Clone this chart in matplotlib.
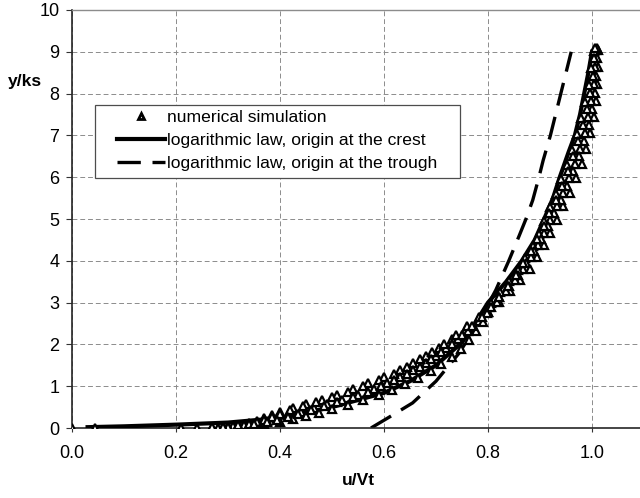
import matplotlib
matplotlib.use("Agg")
import matplotlib.pyplot as plt
from matplotlib.patches import Rectangle
from matplotlib.legend_handler import HandlerLine2D

plt.rcParams['font.family'] = ['Liberation Sans', 'DejaVu Sans']

# numerical simulation, five velocity profiles (u/Vt, y/ks)
grid1_y = [0.0, 0.02, 0.05, 0.08, 0.12, 0.17, 0.23, 0.30, 0.38, 0.47, 0.57, 0.68, 0.80, 0.93,
           1.07, 1.22, 1.38, 1.55, 1.73, 1.92, 2.12, 2.33, 2.55, 2.78, 3.02, 3.27, 3.53, 3.80,
           4.08, 4.37, 4.67, 4.98, 5.30, 5.63, 5.97, 6.32, 6.68, 7.05, 7.43, 7.82, 8.22, 8.63, 9.05]
grid2_y = [0.01, 0.035, 0.065, 0.10, 0.145, 0.20, 0.265, 0.34, 0.425, 0.52, 0.625, 0.74, 0.865, 1.0,
           1.145, 1.30, 1.465, 1.64, 1.825, 2.02, 2.225, 2.44, 2.665, 2.90, 3.145, 3.40, 3.665, 3.94,
           4.225, 4.52, 4.825, 5.14, 5.465, 5.80, 6.145, 6.50, 6.865, 7.24, 7.625, 8.02, 8.425, 8.84, 9.10]
grid3_y = [0.0, 0.0, 0.03, 0.06, 0.10, 0.15, 0.21, 0.28, 0.36, 0.45, 0.55, 0.66, 0.78, 0.91,
           1.05, 1.20, 1.36, 1.53, 1.71, 1.90, 2.10, 2.31, 2.53, 2.76, 3.00, 3.25, 3.51, 3.78,
           4.06, 4.35, 4.65, 4.96, 5.28, 5.61, 5.95, 6.30, 6.66, 7.03, 7.41, 7.80, 8.20, 8.61, 9.02]

sim_a_u = [0.27, 0.29, 0.31, 0.325, 0.34, 0.355, 0.37, 0.385, 0.40, 0.425, 0.45, 0.48, 0.51, 0.54,
           0.57, 0.60, 0.63, 0.655, 0.68, 0.705, 0.73, 0.755, 0.78, 0.80, 0.822, 0.843, 0.862, 0.88,
           0.895, 0.908, 0.92, 0.932, 0.945, 0.958, 0.97, 0.98, 0.988, 0.997, 1.003, 1.007, 1.009, 1.011, 1.011]
sim_b_u = [0.21, 0.27, 0.30, 0.33, 0.355, 0.375, 0.395, 0.415, 0.44, 0.465, 0.49, 0.52, 0.55, 0.58,
           0.605, 0.63, 0.655, 0.68, 0.70, 0.72, 0.742, 0.762, 0.782, 0.80, 0.817, 0.835, 0.852, 0.868,
           0.883, 0.896, 0.908, 0.92, 0.932, 0.944, 0.956, 0.967, 0.977, 0.986, 0.993, 0.999, 1.003, 1.006, 1.008]
sim_c_u = [0.0, 0.045, 0.30, 0.34, 0.37, 0.40, 0.425, 0.45, 0.475, 0.50, 0.53, 0.56, 0.59, 0.615,
           0.64, 0.665, 0.69, 0.71, 0.73, 0.748, 0.763, 0.777, 0.79, 0.798, 0.805, 0.823, 0.84, 0.857,
           0.872, 0.886, 0.898, 0.908, 0.919, 0.93, 0.941, 0.951, 0.961, 0.971, 0.979, 0.987, 0.994, 0.999, 1.003]
sim_d_u = [0.28, 0.30, 0.32, 0.34, 0.355, 0.37, 0.385, 0.40, 0.42, 0.445, 0.47, 0.50, 0.53, 0.56,
           0.59, 0.62, 0.645, 0.67, 0.693, 0.716, 0.738, 0.76, 0.782, 0.802, 0.822, 0.84, 0.857, 0.873,
           0.888, 0.902, 0.915, 0.927, 0.94, 0.952, 0.964, 0.975, 0.985, 0.994, 1.0, 1.005, 1.008, 1.01, 1.01]
sim_e_u = [0.24, 0.29, 0.32, 0.35, 0.375, 0.395, 0.415, 0.435, 0.46, 0.485, 0.51, 0.54, 0.57, 0.595,
           0.62, 0.645, 0.67, 0.69, 0.71, 0.73, 0.75, 0.77, 0.788, 0.805, 0.822, 0.838, 0.853, 0.868,
           0.882, 0.895, 0.907, 0.918, 0.93, 0.942, 0.953, 0.964, 0.974, 0.983, 0.991, 0.997, 1.001, 1.004, 1.006]

# log law with the origin at the crest
crest_u = [0.03, 0.10, 0.20, 0.30, 0.40, 0.50, 0.60, 0.65, 0.70, 0.75, 0.77, 0.80, 0.835, 0.865,
           0.89, 0.908, 0.925, 0.938, 0.955, 0.967, 0.977, 0.985, 0.993, 1.0]
crest_y = [0.02, 0.04, 0.08, 0.13, 0.24, 0.50, 0.84, 1.12, 1.50, 2.05, 2.40, 3.00, 3.50, 4.00,
           4.50, 5.00, 5.50, 6.00, 6.60, 7.00, 7.50, 8.00, 8.50, 9.00]

# log law with the origin at the trough
trough_u = [0.575, 0.61, 0.655, 0.70, 0.745, 0.785, 0.815, 0.84, 0.86, 0.873, 0.886, 0.898, 0.906,
            0.92, 0.93, 0.94, 0.95, 0.96]
trough_y = [0.0, 0.26, 0.60, 1.12, 1.80, 2.60, 3.30, 4.00, 4.60, 5.00, 5.45, 6.00, 6.40,
            7.00, 7.50, 8.00, 8.50, 9.00]

fig = plt.figure(figsize=(6.4, 4.98), dpi=100)
ax = fig.add_axes([72 / 640, 70 / 498, 572 / 640, 418 / 498])

ln_trough, = ax.plot(trough_u, trough_y, color='black', lw=2.4, linestyle=(0, (7, 3.5)),
                     label='logarithmic law, origin at the trough', zorder=2)
ln_crest, = ax.plot(crest_u, crest_y, color='black', lw=3.0,
                    label='logarithmic law, origin at the crest', zorder=3)
mk = dict(linestyle='none', marker='^', ms=5.8, mfc='white', mec='black', mew=1.6, zorder=4)
ln_sim, = ax.plot(sim_a_u, grid1_y, label='numerical simulation', **mk)
ax.plot(sim_b_u, grid1_y, **mk)
ax.plot(sim_c_u, grid3_y, **mk)
ax.plot(sim_d_u, grid2_y, **mk)
ax.plot(sim_e_u, grid2_y, **mk)

ax.set_xlim(0, 1.1)
ax.set_ylim(0, 10)
ax.set_xticks([0.0, 0.2, 0.4, 0.6, 0.8, 1.0])
ax.set_xticklabels(['0.0', '0.2', '0.4', '0.6', '0.8', '1.0'])
ax.set_yticks(range(0, 11))
ax.grid(True, color='0.55', lw=0.7, linestyle=(0, (5, 3)))
ax.set_axisbelow(True)

ax.tick_params(axis='both', labelsize=13, color='0.2')
ax.tick_params(axis='y', direction='out', length=4, pad=5)
ax.tick_params(axis='x', direction='out', length=3, pad=9)

for s in ['left', 'bottom']:
    ax.spines[s].set_color('0.15')
    ax.spines[s].set_linewidth(1.2)
ax.spines['top'].set_color('0.55')
ax.spines['top'].set_linewidth(1.0)
ax.spines['right'].set_visible(False)

ax.set_xlabel('u/Vt', fontsize=12.6, fontweight='bold', labelpad=8)
ax.set_ylabel('y/ks', fontsize=12.6, fontweight='bold', rotation=0, ha='center', va='center')
ax.yaxis.set_label_coords(-0.082, 0.828)

# legend box drawn separately, wider side padding than top/bottom
ax.add_patch(Rectangle(((95 - 72) / 572, (428 - 178) / 418), (460 - 95) / 572, (178 - 105) / 418,
                       transform=ax.transAxes, facecolor='white', edgecolor='0.3', lw=0.9, zorder=5))
leg = ax.legend(handles=[ln_sim, ln_crest, ln_trough], loc='upper left',
                bbox_to_anchor=((117 - 72) / 572, (428 - 110) / 418), borderaxespad=0, borderpad=0,
                frameon=False, fontsize=12.6, handlelength=2.75, handletextpad=0.1, labelspacing=0.43,
                handler_map={ln_sim: HandlerLine2D(numpoints=1)})
leg.legend_handles[0].set_markersize(5.0)
leg.legend_handles[0].set_markeredgewidth(2.0)
leg.set_zorder(6)

fig.savefig('out.png', dpi=100)
